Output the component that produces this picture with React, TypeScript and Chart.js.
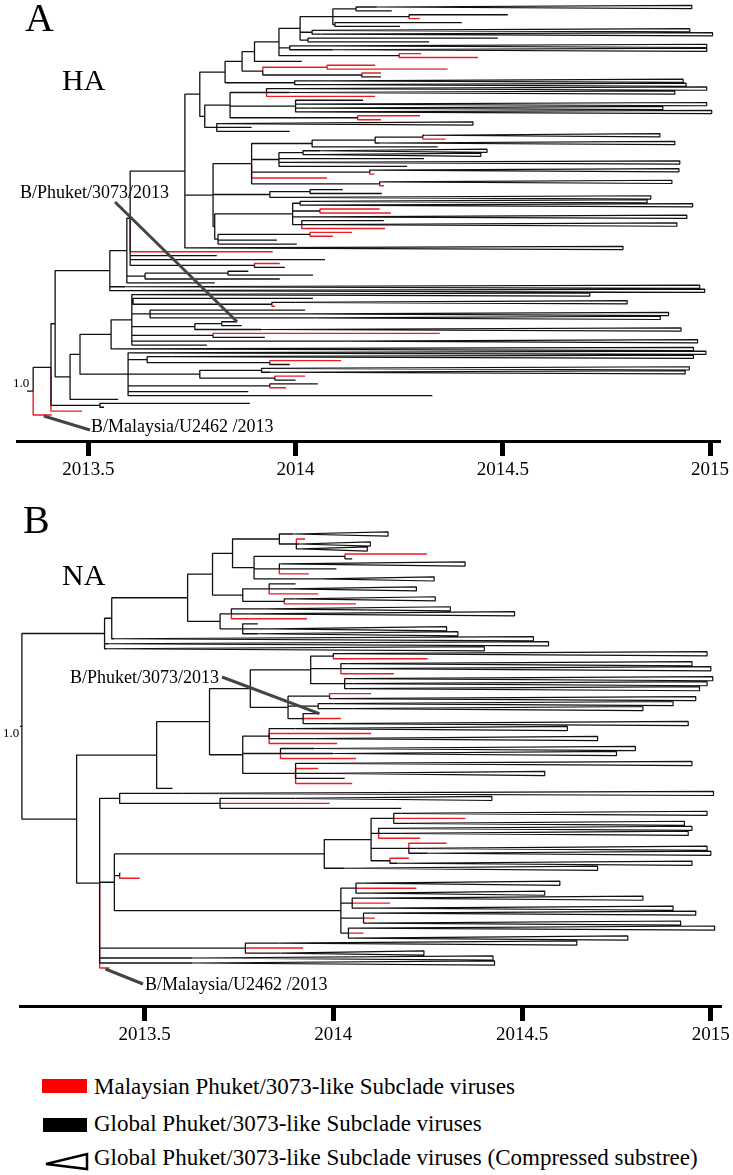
import React, { useEffect, useRef } from 'react';
import { Chart, registerables } from 'chart.js';
Chart.register(...registerables);

// ---------- data: trees as [date, children[] , kind?] | [date, kind, extra] ----------
// leaf kinds: 'g' global (black), 'm' Malaysian (red), 'c' compressed subtree (extra = max tip date)
const tickYears = [2013.5, 2014, 2014.5, 2015];
const haRange = [2013.328, 2015.024];
const naRange = [2013.17, 2015.028];

const haClade1: any = [2013.901, [
  [2013.960, [
    [2014.011, [
      [2014.090, [
        [2014.146, [[2014.196, 'c', 2014.956], [2014.232, 'g']]],
        [2014.274, [[2014.512, 'g'], [2014.300, 'm']]],
        [2014.095, [[2014.401, 'g'], [2014.252, 'g']]],
      ]],
      [2014.040, [[2014.054, 'c', 2014.951], [2014.060, 'c', 2015.006]]],
      [2014.030, [[2014.488, 'g'], [2014.322, 'g']]],
    ]],
    [2013.986, [[2014.083, 'c', 2014.992], [2014.090, 'c', 2014.992]]],
    [2014.250, [[2014.303, 'm'], [2014.440, 'm']]],
  ]],
  [2014.015, 'g'],
]];
const haClade2: any = [2013.921, [
  [2014.076, [[2014.192, 'm'], [2014.367, 'm']], 'm'],
  [2014.160, [[2014.206, 'm'], [2014.206, 'g']]],
]];
const haClade3: any = [2013.781, [
  [2013.842, [
    [2013.930, [[2014.011, 'c', 2014.992], [2013.986, 'c', 2014.915], [2014.192, 'm']]],
    [2014.000, [[2014.163, 'g'], [2014.011, 'c', 2014.992], [2014.035, 'c', 2014.886], [2014.023, 'c', 2015.004]]],
    [2014.150, [[2014.300, 'm'], [2014.206, 'm']]],
  ]],
  [2013.810, [[2013.822, 'c', 2014.428], [2013.894, 'g'], [2013.986, 'g']]],
]];
const haClade4: any = [2013.894, [
  [2014.040, [
    [2014.192, [[2014.307, [[2014.310, 'c', 2014.879], [2014.362, 'm']]], [2014.203, 'c', 2014.915]]],
    [2014.343, 'g'],
  ]],
  [2013.960, [
    [2014.018, [[2014.059, 'c', 2014.462], [2014.059, 'c', 2014.447]]],
    [2014.310, 'g'], [2013.986, 'c', 2014.927], [2014.269, 'g'],
  ]],
  [2014.179, [[2014.187, 'c', 2014.925], [2014.190, 'm']]],
  [2014.076, 'm'],
  [2014.203, [[2014.208, 'c', 2014.908], [2014.213, 'm']]],
]];
const haClade5: any = [2013.938, [[2014.035, [[2014.114, 'g'], [2014.208, 'g']]], [2014.011, 'c', 2014.857]]];
const haClade6: any = [2013.805, [
  [2013.993, [
    [2014.011, [[2014.035, 'c', 2014.848], [2014.023, 'c', 2014.958]]],
    [2014.059, [[2014.203, 'm'], [2014.230, 'm']]],
    [2014.035, 'c', 2014.944],
    [2014.015, [[2014.213, 'g'], [2014.059, 'c', 2014.920], [2014.216, 'm']]],
  ]],
  [2013.813, [
    [2014.035, [[2014.136, 'm'], [2014.090, 'm']]],
    [2013.955, 'g'],
    [2014.003, 'g'],
  ]],
]];
const haTop: any = [2013.769, [
  [2013.830, [
    [2013.871, [haClade1, haClade2]],
    [2013.998, [[2014.083, 'c', 2014.935], [2014.095, 'c', 2014.942]]],
  ]],
  haClade3,
]];
const haMid: any = [2013.801, [haClade4, haClade5, haClade6]];
const haBig: any = [2013.733, [haTop, haMid, [2013.745, 'c', 2014.790]]];
const haPhuketSide: any = [2013.601, [
  haBig, [2013.945, 'm'], [2013.810, 'g'], [2014.071, 'g'],
  [2013.901, [[2013.962, 'm'], [2013.974, 'g']]],
]];
const haUpper: any = [2013.552, [
  [2013.593, [haPhuketSide, [2013.637, [[2013.837, [[2013.886, 'g'], [2014.042, 'g']]], [2013.962, 'g']]], [2013.805, 'g']]],
  [2013.589, 'c', 2014.975],
  [2013.589, 'c', 2014.987],
]];
const haLowA: any = [2013.555, [
  [2013.605, [
    [2013.613, 'c', 2014.710],
    [2013.608, [[2014.042, 'g'], [2013.943, [[2014.000, 'c', 2014.800], [2013.950, 'm']]]]],
    [2013.649, [[2014.023, 'g'], [2014.030, 'c', 2014.900], [2014.050, 'c', 2014.880]]],
    [2013.757, [[2013.822, [[2013.859, 'g', 'phuket'], [2013.870, 'g']]], [2013.918, 'c', 2014.930]]],
    [2013.801, [[2014.348, 'm'], [2013.926, 'g']]],
    [2014.131, 'c', 2014.970],
    [2013.786, 'g'],
  ]],
  [2013.560, 'c', 2014.960],
]];
const haLowB: any = [2013.596, [
  [2013.600, 'c', 2014.990],
  [2013.642, [[2013.700, 'c', 2014.960], [2013.938, [[2014.110, 'm'], [2013.986, 'g']]]]],
  [2013.769, [
    [2013.918, [[2013.930, 'c', 2014.950], [2013.940, 'c', 2014.940]]],
    [2013.950, [[2014.023, 'm'], [2014.000, 'g']]],
  ]],
  [2013.938, [[2014.054, 'g'], [2013.977, 'm']]],
  [2013.886, 'g'],
  [2014.330, 'g'],
]];
const haRoot: any = [2013.367, [
  [2013.410, [
    [2013.420, [haUpper, [2013.456, [[2013.480, [haLowA, haLowB]], [2013.572, 'g']]]]],
    [2013.528, [[2013.890, 'g'], [2013.538, 'g']]],
    [2013.485, 'm'],
  ]],
  [2013.412, 'm', 'malaysia'],
]];

// ---- NA tree ----
const naTopA: any = [2013.680, [
  [2013.733, [
    [2013.857, [
      [2013.894, 'c', 2014.145],
      [2013.902, [[2013.925, 'm'], [2013.910, 'c', 2014.098], [2013.915, 'c', 2014.090]]],
    ]],
    [2013.790, [
      [2014.031, [[2014.248, 'm'], [2014.050, 'g']]],
      [2013.857, [[2013.860, 'c', 2014.349], [2014.008, 'g'], [2013.935, 'm']]],
      [2013.968, 'c', 2014.267],
    ]],
  ]],
  [2013.760, [
    [2013.830, [[2013.900, 'g'], [2013.880, 'c', 2014.220], [2013.960, 'm']]],
    [2013.870, [[2013.900, 'c', 2014.270], [2014.060, 'm']]],
  ]],
]];
const naTopB: any = [2013.700, [
  [2013.730, [[2013.820, 'c', 2014.310], [2013.780, 'c', 2014.480], [2013.930, 'm']]],
  [2013.760, [[2013.800, 'g'], [2013.840, 'c', 2014.300], [2013.800, 'c', 2014.330]]],
]];
const naTop: any = [2013.394, [
  [2013.413, [[2013.614, [naTopA, naTopB]], [2013.420, 'c', 2014.530]]],
  [2013.405, 'c', 2014.570],
  [2013.400, 'c', 2014.400],
]];
const naMidUp: any = [2013.780, [
  [2013.940, [
    [2014.000, [[2014.020, 'c', 2014.990], [2014.250, 'm']]],
    [2014.020, [[2014.040, 'c', 2014.950], [2014.060, 'c', 2015.000], [2014.160, 'm']]],
    [2014.030, [[2014.050, 'c', 2015.005], [2014.050, 'c', 2014.990], [2014.040, 'c', 2014.970]]],
  ]],
  [2013.880, [
    [2013.990, [[2014.100, 'm'], [2014.000, 'c', 2014.960]]],
    [2013.960, [[2014.000, 'c', 2014.900], [2014.050, 'c', 2014.820]]],
    [2013.920, [[2013.963, 'g', 'phuket'], [2014.020, 'm'], [2013.990, 'c', 2014.940]]],
  ]],
]];
const naMidLow: any = [2013.760, [
  [2013.830, [[2013.900, 'c', 2014.620], [2014.100, 'm'], [2013.950, 'c', 2014.700], [2014.010, 'm']]],
  [2013.860, [[2013.950, 'c', 2014.800], [2014.000, 'c', 2014.750], [2014.060, 'm']]],
  [2013.900, [[2013.980, 'c', 2014.950], [2013.960, 'm'], [2014.000, 'c', 2014.560], [2014.030, 'g'], [2014.050, 'm']]],
]];
const naMid: any = [2013.532, [[2013.672, [naMidUp, naMidLow]], [2013.574, 'g']]];
const naLowC1: any = [2014.100, [
  [2014.160, [[2014.180, 'c', 2014.990], [2014.350, 'm'], [2014.200, 'c', 2014.930]]],
  [2014.120, [[2014.150, 'c', 2014.950], [2014.180, 'c', 2014.940], [2014.230, 'm']]],
  [2014.200, [[2014.300, 'm'], [2014.220, 'c', 2014.990], [2014.250, 'c', 2015.000]]],
  [2014.150, [[2014.200, 'm'], [2014.170, 'c', 2014.950]]],
]];
const naLowC2: any = [2014.020, [
  [2014.060, [[2014.080, 'c', 2014.600], [2014.220, 'm'], [2014.100, 'c', 2014.560]]],
  [2014.050, [[2014.100, 'c', 2014.820], [2014.150, 'm'], [2014.120, 'c', 2014.900]]],
  [2014.080, [[2014.100, 'c', 2014.960], [2014.110, 'm'], [2014.090, 'c', 2014.920]]],
  [2014.040, [[2014.060, 'c', 2015.010], [2014.080, 'm'], [2014.050, 'c', 2014.780]]],
]];
const naLow: any = [2013.381, [
  [2013.434, [[2013.600, 'c', 2015.007], [2013.700, [[2013.900, 'c', 2014.420], [2013.990, 'm'], [2014.180, 'g']]]]],
  [2013.420, [
    [2013.976, [naLowC1, [2014.030, 'c', 2014.700]]],
    [2013.434, [[2013.436, 'g'], [2013.487, 'm']]],
    naLowC2,
  ]],
  [2013.767, [[2013.857, 'c', 2014.645], [2013.920, 'm'], [2013.860, 'c', 2014.240]]],
  [2013.627, 'c', 2014.423],
  [2013.627, 'c', 2014.427],
  [2013.407, 'm', 'malaysia'],
]];
const naRoot: any = [2013.175, [naTop, [2013.320, [naMid, naLow]]]];

// ---------- layout helpers ----------
const RED = '#ea1d25';
const isLeaf = (n: any) => !Array.isArray(n[1]);

function buildTree(root: any, stem: number) {
  const yMap = new Map<any, number>();
  let row = 0;
  const assign = (n: any): number => {
    let y: number;
    if (isLeaf(n)) y = row++;
    else {
      const ys = n[1].map(assign);
      y = (ys[0] + ys[ys.length - 1]) / 2;
    }
    yMap.set(n, y);
    return y;
  };
  assign(root);
  const black: any[] = [], red: any[] = [], tri: any[] = [];
  const named: Record<string, { x: number; y: number }> = {};
  const gap = { x: NaN, y: NaN };
  const draw = (n: any, pd: number, py: number) => {
    const d = n[0], y = yMap.get(n)!;
    const kind = isLeaf(n) ? n[1] : (n[2] || 'g');
    const tgt = kind === 'm' ? red : black;
    tgt.push({ x: pd, y: py }, { x: pd, y }, { x: d, y }, gap);
    if (isLeaf(n)) {
      if (kind === 'c') {
        const h = 0.42;
        tri.push({ x: d, y }, { x: n[2], y: y - h }, { x: n[2], y: y + h }, { x: d, y }, gap);
      } else if (n[2]) named[n[2]] = { x: d, y };
    } else n[1].forEach((c: any) => draw(c, d, y));
  };
  const ry = yMap.get(root)!;
  draw(root, stem, ry);
  return { black, red, tri, named, rows: row };
}

function makeChart(canvas: HTMLCanvasElement, root: any, range: number[], stem: number,
  rowTop: number, rowBottom: number, axisY: number, scaleH: number, padL: number, padR: number,
  notes: (ctx: CanvasRenderingContext2D, c: any, named: any) => void) {
  const t = buildTree(root, stem);
  const s = (rowBottom - rowTop) / (t.rows - 1);
  const yMin = -rowTop / s;
  const yMax = (t.rows - 1) + (axisY - rowBottom) / s;
  const ds = (data: any[], color: string, w: number) => ({
    data, showLine: true, borderColor: color, borderWidth: w, pointRadius: 0,
    spanGaps: false, fill: false, borderJoinStyle: 'bevel' as const, borderCapStyle: 'butt' as const,
  });
  return new Chart(canvas, {
    type: 'scatter',
    data: { datasets: [ds(t.tri, '#111', 1.2), ds(t.black, '#111', 1.3), ds(t.red, RED, 1.4)] },
    options: {
      animation: false, responsive: false, devicePixelRatio: 1, events: [],
      layout: { padding: { left: padL, right: padR, top: 0, bottom: 0 } },
      plugins: { legend: { display: false }, tooltip: { enabled: false } },
      scales: {
        x: {
          type: 'linear', min: range[0], max: range[1],
          afterBuildTicks: (sc: any) => { sc.ticks = tickYears.map((v) => ({ value: v })); },
          afterFit: (sc: any) => { sc.height = scaleH; },
          ticks: { color: '#000', font: { family: 'Liberation Serif', size: 19 }, padding: 3,
            callback: (v: any) => String(v), maxRotation: 0, autoSkip: false },
          grid: { drawOnChartArea: false, drawTicks: true, tickLength: 15, tickWidth: 5, tickColor: '#000' },
          border: { display: true, color: '#000', width: 3 },
        },
        y: { type: 'linear', reverse: true, min: yMin, max: yMax, display: false },
      },
    },
    plugins: [{
      id: 'notes',
      afterDatasetsDraw(c: any) { notes(c.ctx, c, t.named); },
    }],
  });
}

function leafPx(c: any, p: { x: number; y: number }) {
  return { x: c.scales.x.getPixelForValue(p.x), y: c.scales.y.getPixelForValue(p.y) };
}

function drawLeader(ctx: CanvasRenderingContext2D, x0: number, y0: number, x1: number, y1: number) {
  ctx.save();
  ctx.strokeStyle = '#444';
  ctx.lineWidth = 3;
  ctx.beginPath(); ctx.moveTo(x0, y0); ctx.lineTo(x1, y1); ctx.stroke();
  ctx.restore();
}
function drawText(ctx: CanvasRenderingContext2D, txt: string, x: number, y: number, size: number) {
  ctx.save();
  ctx.fillStyle = '#000';
  ctx.font = `${size}px "Liberation Serif"`;
  ctx.textBaseline = 'alphabetic';
  ctx.fillText(txt, x, y);
  ctx.restore();
}

const notesHA = (ctx: CanvasRenderingContext2D, c: any, named: any) => {
  const ph = leafPx(c, named.phuket);
  drawLeader(ctx, 115, 202, ph.x, ph.y);
  drawText(ctx, 'B/Phuket/3073/2013', 20, 198, 18);
  const my = leafPx(c, named.malaysia);
  drawLeader(ctx, my.x - 8, my.y + 1, 90, 430);
  drawText(ctx, 'B/Malaysia/U2462 /2013', 91, 432, 18);
  drawText(ctx, '1.0', 13, 387, 13);
};
const notesNA = (ctx: CanvasRenderingContext2D, c: any, named: any) => {
  const ph = leafPx(c, named.phuket);
  drawLeader(ctx, 222, 177, ph.x, ph.y);
  drawText(ctx, 'B/Phuket/3073/2013', 70, 183, 18);
  const my = leafPx(c, named.malaysia);
  drawLeader(ctx, my.x - 4, my.y + 1, 143, 484);
  drawText(ctx, 'B/Malaysia/U2462 /2013', 145, 490, 18);
  drawText(ctx, '1.0', 3, 237, 13);
};

function Panel({ top, height, build }: { top: number; height: number; build: (c: HTMLCanvasElement) => Chart }) {
  const ref = useRef<HTMLCanvasElement>(null);
  useEffect(() => {
    const ch = build(ref.current!);
    return () => ch.destroy();
  }, []);
  return <canvas ref={ref} width={733} height={height}
    style={{ position: 'absolute', left: 0, top, width: 733, height }} />;
}

const serif = '"Liberation Serif", "Times New Roman", serif';
const txt = (s: string, left: number, top: number, size: number) => (
  <div style={{ position: 'absolute', left, top, fontSize: size, lineHeight: 1, fontFamily: serif, color: '#000', whiteSpace: 'nowrap' }}>{s}</div>
);

export default function App() {
  return (
    <div style={{ position: 'absolute', left: 0, top: 0, width: 733, height: 1175, background: '#fff', overflow: 'hidden' }}>
      <Panel top={0} height={500} build={(cv) => makeChart(cv, haRoot, haRange, 2013.352, 7, 415, 441, 59, 17, 13, notesHA)} />
      <Panel top={500} height={560} build={(cv) => makeChart(cv, naRoot, naRange, 2013.155, 34, 468, 506, 54, 20, 10, notesNA)} />
      {txt('A', 25, -2, 40)}
      {txt('HA', 62, 65, 30)}
      {txt('B', 23, 500, 40)}
      {txt('NA', 62, 560, 30)}
      <div style={{ position: 'absolute', left: 42, top: 1079, width: 45, height: 14, background: '#f00' }} />
      <div style={{ position: 'absolute', left: 43, top: 1118, width: 44, height: 14, background: '#000' }} />
      <svg style={{ position: 'absolute', left: 43, top: 1150 }} width={46} height={22}>
        <polygon points="3,14 44,4 44,19" fill="#fff" stroke="#000" strokeWidth={2.5} strokeLinejoin="miter" />
      </svg>
      {txt('Malaysian Phuket/3073-like Subclade viruses', 94, 1075, 23)}
      {txt('Global Phuket/3073-like Subclade viruses', 94, 1112, 23)}
      {txt('Global Phuket/3073-like Subclade viruses (Compressed substree)', 94, 1146, 23)}
    </div>
  );
}
